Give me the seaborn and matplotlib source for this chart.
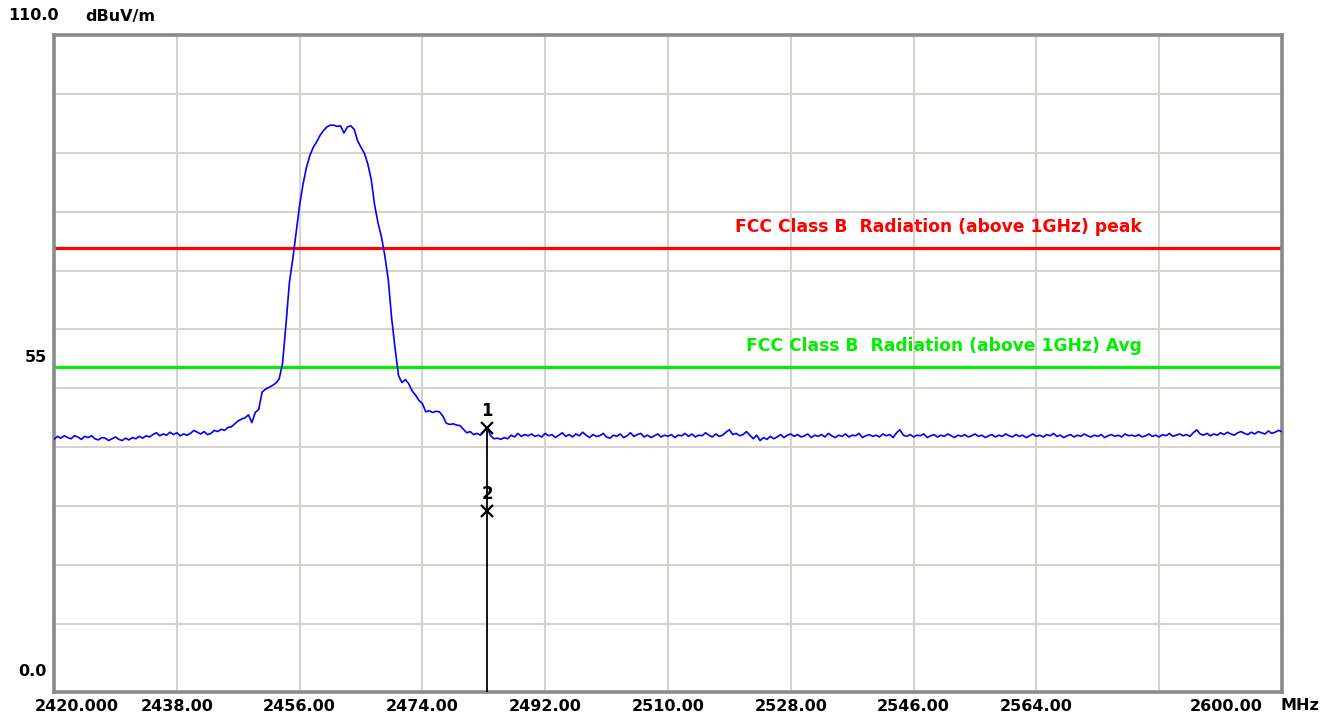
import numpy as np
import matplotlib
matplotlib.use("Agg")
import matplotlib.pyplot as plt
import matplotlib.transforms as mtransforms
import seaborn as sns

# Sweep: 2420 - 2600 MHz, one reading every 0.5 MHz
freq_start, freq_stop, freq_step = 2420.0, 2600.0, 0.5

# Measured level (dBuV/m), 20 readings per row (10 MHz)
level = [
    # 2420 - 2429.5
    42.3, 42.8, 42.5, 42.9, 42.6, 42.4, 42.9, 42.7, 42.3, 42.8, 42.6, 42.9, 42.4, 42.2, 42.6, 42.5, 42.1, 42.4, 42.7, 42.3,
    # 2430 - 2439.5
    42.1, 42.5, 42.2, 42.6, 42.4, 42.8, 42.5, 42.9, 42.7, 43.1, 43.4, 42.9, 43.2, 43.0, 43.5, 43.1, 43.4, 42.9, 43.2, 43.0,
    # 2440 - 2449.5
    43.3, 43.8, 43.5, 43.2, 43.6, 43.1, 43.3, 43.8, 43.6, 44.0, 43.8, 44.3, 44.4, 44.9, 45.4, 45.7, 45.9, 46.4, 45.1, 46.8,
    # 2450 - 2459.5
    47.3, 50.2, 50.7, 51.0, 51.3, 51.7, 52.4, 55.0, 61.5, 68.5, 72.5, 77.0, 81.5, 85.0, 87.8, 89.8, 91.2, 92.1, 93.2, 94.0,
    # 2460 - 2469.5
    94.6, 94.9, 94.9, 94.7, 94.8, 93.6, 94.6, 94.8, 94.2, 92.3, 91.2, 90.2, 88.4, 85.8, 81.5, 78.5, 76.2, 73.0, 69.0, 62.5,
    # 2470 - 2479.5
    57.5, 53.0, 51.8, 52.3, 51.6, 50.4, 49.7, 48.8, 48.3, 46.9, 47.1, 46.8, 47.0, 46.9, 46.2, 45.0, 44.8, 44.9, 44.7, 44.6,
    # 2480 - 2489.5
    44.0, 43.4, 43.6, 43.1, 43.3, 43.0, 43.6, 44.2, 42.9, 42.4, 42.5, 42.3, 42.6, 42.4, 43.0, 42.7, 43.3, 42.8, 43.1, 42.9,
    # 2490 - 2499.5
    43.2, 42.8, 43.0, 42.7, 43.3, 42.9, 43.1, 42.6, 43.0, 43.4, 42.8, 43.1, 42.7, 43.2, 42.9, 43.5, 43.0, 42.6, 43.1, 42.8,
    # 2500 - 2509.5
    42.9, 43.3, 42.7, 42.5, 43.0, 42.8, 43.2, 42.6, 42.9, 43.4, 42.8, 43.1, 43.3, 42.7, 43.0, 42.6, 42.9, 43.2, 42.7, 43.0,
    # 2510 - 2519.5
    42.8, 43.1, 42.6, 43.0, 42.9, 43.3, 42.8, 43.2, 42.7, 43.0, 42.9, 43.4, 43.0, 42.7, 43.2, 42.8, 43.0, 43.5, 43.9, 43.1,
    # 2520 - 2529.5
    43.3, 42.9, 43.1, 43.6, 43.0, 42.4, 43.0, 42.1, 42.6, 42.3, 42.8, 42.4, 42.7, 43.1, 42.6, 43.0, 43.2, 42.8, 43.1, 42.7,
    # 2530 - 2539.5
    42.9, 43.2, 42.6, 43.0, 42.8, 43.1, 42.7, 43.3, 42.9, 42.6, 43.0, 42.8, 43.2, 42.7, 43.0, 42.9, 43.3, 42.6, 42.9, 43.1,
    # 2540 - 2549.5
    42.8, 43.0, 42.7, 43.2, 42.9, 43.1, 42.6, 43.4, 43.9, 43.0, 42.8, 43.1, 42.7, 43.0, 42.9, 43.2, 42.6, 42.9, 43.1, 42.7,
    # 2550 - 2559.5
    43.0, 42.8, 43.2, 42.9, 42.6, 43.0, 42.8, 43.1, 42.7, 42.9, 43.2, 42.8, 43.0, 42.6, 42.9, 43.1, 42.7, 43.0, 42.8, 43.2,
    # 2560 - 2569.5
    42.9, 42.7, 43.1, 42.8, 43.0, 42.6, 42.9, 43.2, 42.8, 43.0, 42.7, 43.1, 42.9, 43.3, 42.8, 43.0, 42.6, 42.9, 43.1, 42.7,
    # 2570 - 2579.5
    43.0, 42.8, 43.2, 42.9, 42.7, 43.0, 42.8, 43.1, 42.6, 42.9, 43.1, 42.8, 43.0, 42.7, 43.2, 42.9, 43.0, 42.8, 43.1, 42.7,
    # 2580 - 2589.5
    42.9, 43.2, 42.8, 43.0, 42.7, 43.1, 42.9, 43.3, 42.8, 43.0, 43.2, 42.9, 43.1, 42.8, 43.4, 43.9, 43.2, 43.0, 43.3, 42.9,
    # 2590 - 2600
    43.2, 43.0, 43.4, 43.1, 43.5, 43.2, 43.0, 43.4, 43.6, 43.3, 43.1, 43.5, 43.2, 43.6, 43.4, 43.2, 43.7, 43.3, 43.5, 43.8, 43.6,
]
freq = np.arange(freq_start, freq_stop + freq_step / 2, freq_step)

# FCC Class B limits (above 1 GHz)
limit_names = ["FCC Class B  Radiation (above 1GHz) peak", "FCC Class B  Radiation (above 1GHz) Avg"]
limit_values = [74.3, 54.4]
limit_colors = ["#ff0000", "#00ee00"]

# Markers
marker_labels = ["1", "2"]
marker_freq = [2483.5, 2483.5]
marker_level = [44.2, 30.3]

# Axis ticks / labels
x_ticks = [2420, 2438, 2456, 2474, 2492, 2510, 2528, 2546, 2564, 2582, 2600]
x_tick_labels = ["2420.000", "2438.00", "2456.00", "2474.00", "2492.00", "2510.00",
                 "2528.00", "2546.00", "2564.00", "", "2600.00"]
y_min, y_max = 0.0, 110.0

sns.set_style("white")
plt.rcParams["font.family"] = ["DejaVu Sans"]
plt.rcParams["font.weight"] = "bold"
plt.rcParams["text.color"] = "black"
plt.rcParams["xtick.color"] = "black"

fig = plt.figure(figsize=(13.4, 7.2), dpi=100)
ax = fig.add_axes([54 / 1340, 28 / 720, 1228 / 1340, 657 / 720])

# grid (instrument draws 10 divisions slightly tighter than full scale)
grid_col = "#d6d3ce"
for k in range(1, 11):
    ax.axhline(y_max - k * 9.86, color=grid_col, lw=1.5, zorder=0)
for xv in x_ticks[1:-1]:
    ax.axvline(xv, color=grid_col, lw=1.5, zorder=0)

# limit lines
for name, val, col in zip(limit_names, limit_values, limit_colors):
    ax.axhline(val, color=col, lw=2.3, zorder=2)
    ax.text(2579.5, val + 3.6, name, color=col, ha="right", va="center",
            fontsize=12.3, fontweight="bold", zorder=3)

# trace
sns.lineplot(x=freq, y=level, ax=ax, color="#0000ff", lw=1.2,
             estimator=None, sort=False, zorder=4)

# markers
ax.vlines(marker_freq[0], y_min, marker_level[0], color="black", lw=1.3, zorder=5)
for lab, fx, lv in zip(marker_labels, marker_freq, marker_level):
    ax.plot(fx, lv, marker="x", color="black", ms=8, mew=1.6, zorder=6)
    ax.annotate(lab, (fx, lv), xytext=(0, 12), textcoords="offset points",
                ha="center", va="center", fontsize=12, fontweight="bold", color="black")

ax.set_xlim(freq_start, freq_stop)
ax.set_ylim(y_min, y_max)
ax.set_xticks(x_ticks)
ax.set_xticklabels(x_tick_labels, fontsize=11.5, fontweight="bold", color="black")
ax.set_yticks([])
ax.tick_params(axis="x", length=0, pad=5)
ax.set_xlabel("")
ax.set_ylabel("")

labels = ax.get_xticklabels()
shift_l = mtransforms.ScaledTranslation(-19 / 100, 0, fig.dpi_scale_trans)
labels[0].set_ha("left")
labels[0].set_transform(labels[0].get_transform() + shift_l)
labels[-1].set_ha("right")
labels[-1].set_transform(labels[-1].get_transform() + shift_l)

for sp in ax.spines.values():
    sp.set_visible(True)
    sp.set_color("#8a8a8a")
    sp.set_linewidth(2.6)

# y-axis annotations and units
txt_kw = dict(fontsize=11.5, fontweight="bold", color="black", va="center")
fig.text(8 / 1340, 1 - 16 / 720, "110.0", ha="left", **txt_kw)
fig.text(85 / 1340, 1 - 16 / 720, "dBuV/m", ha="left", **txt_kw)
fig.text(47 / 1340, 1 - 358 / 720, "55", ha="right", **txt_kw)
fig.text(47 / 1340, 1 - 672 / 720, "0.0", ha="right", **txt_kw)
fig.text(1280 / 1340, 1 - 705 / 720, "MHz", ha="left", **txt_kw)

fig.savefig("out.png", dpi=100, facecolor="white")
